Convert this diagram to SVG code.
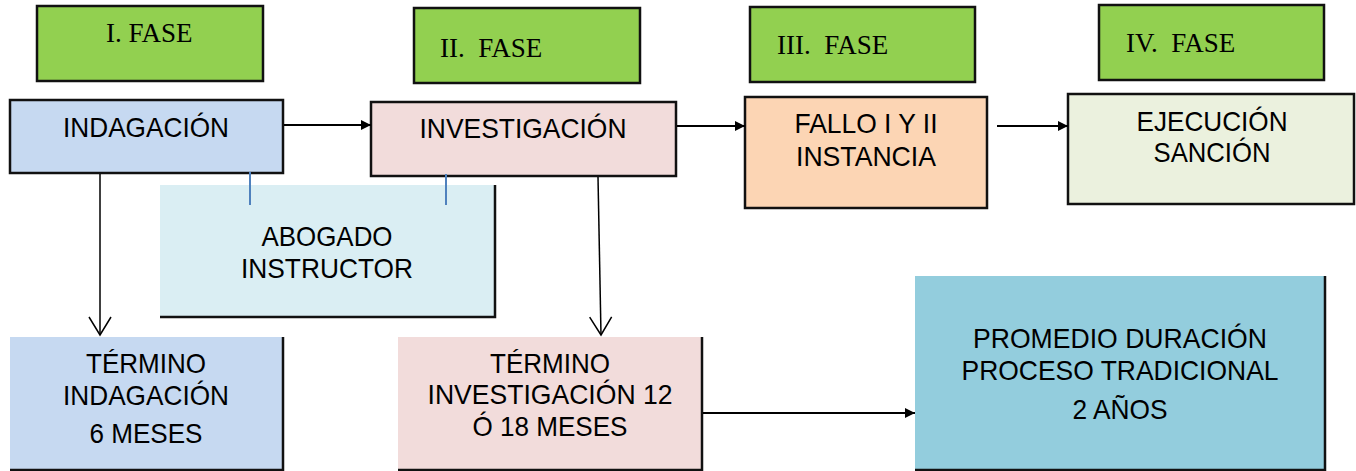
<svg xmlns="http://www.w3.org/2000/svg" width="1356" height="471" viewBox="0 0 1356 471">
<style>
.fase{fill:#92D050;stroke:#111;stroke-width:2.5}
.box{stroke:#111;stroke-width:2.5}
.edge{fill:none;stroke:#111;stroke-width:2.5}
.ser{font-family:"Liberation Serif","Times New Roman",serif;font-size:27px;fill:#000}
.lab{font-family:"Liberation Sans",Arial,sans-serif;font-size:28px;fill:#000;text-anchor:middle}
.con{fill:none;stroke:#000;stroke-width:2}
.thin{fill:none;stroke:#000;stroke-width:1.5}
.tick{stroke:#4F81BD;stroke-width:2}
</style>
<defs>
<marker id="fa" markerUnits="userSpaceOnUse" markerWidth="12" markerHeight="10" refX="10" refY="5" orient="auto">
<path d="M0,0 L10,5 L0,10 Z" fill="#000"/>
</marker>
<marker id="oa" markerUnits="userSpaceOnUse" markerWidth="24" markerHeight="26" refX="20" refY="12" orient="auto" overflow="visible">
<path d="M2,1 L20,12 L2,23" fill="none" stroke="#000" stroke-width="1.5"/>
</marker>
</defs>

<g id="fase1"><rect class="fase" x="37" y="6" width="226" height="75"/><text class="ser" x="106" y="42">I. FASE</text></g>
<g id="fase2"><rect class="fase" x="414" y="8" width="226" height="75"/><text class="ser" x="440" y="57" xml:space="preserve">II.  FASE</text></g>
<g id="fase3"><rect class="fase" x="750" y="7" width="225" height="75"/><text class="ser" x="777" y="54" xml:space="preserve">III.  FASE</text></g>
<g id="fase4"><rect class="fase" x="1099" y="5" width="225" height="75"/><text class="ser" x="1126" y="52" xml:space="preserve">IV.  FASE</text></g>

<g id="indagacion"><rect class="box" x="10" y="100" width="273" height="73" fill="#C6D9F1"/><text class="lab" x="146" y="137" textLength="166" lengthAdjust="spacingAndGlyphs">INDAGACIÓN</text></g>
<g id="investigacion"><rect class="box" x="371" y="102" width="305" height="74" fill="#F2DCDB"/><text class="lab" x="523" y="138" textLength="207" lengthAdjust="spacingAndGlyphs">INVESTIGACIÓN</text></g>
<g id="fallo"><rect class="box" x="745" y="97" width="242" height="111" fill="#FCD5B4"/><text class="lab" x="866" y="133" textLength="143" lengthAdjust="spacingAndGlyphs">FALLO I Y II</text><text class="lab" x="866" y="166" textLength="140" lengthAdjust="spacingAndGlyphs">INSTANCIA</text></g>
<g id="ejecucion"><rect class="box" x="1068" y="94" width="286" height="110" fill="#EBF1DE"/><text class="lab" x="1212" y="131" textLength="151" lengthAdjust="spacingAndGlyphs">EJECUCIÓN</text><text class="lab" x="1212" y="162" textLength="117" lengthAdjust="spacingAndGlyphs">SANCIÓN</text></g>

<g id="abogado"><rect x="160" y="185" width="335" height="132" fill="#DAEEF3"/><path class="edge" d="M495,185 V317 H160"/><text class="lab" x="327" y="246" textLength="131" lengthAdjust="spacingAndGlyphs">ABOGADO</text><text class="lab" x="327" y="278" textLength="172" lengthAdjust="spacingAndGlyphs">INSTRUCTOR</text></g>

<g id="termino-indagacion"><rect x="10" y="337" width="273" height="133" fill="#C6D9F1"/><path class="edge" d="M283,337 V470 H10"/><text class="lab" x="146" y="373" textLength="120" lengthAdjust="spacingAndGlyphs">TÉRMINO</text><text class="lab" x="146" y="405" textLength="166" lengthAdjust="spacingAndGlyphs">INDAGACIÓN</text><text class="lab" x="146" y="443" textLength="113" lengthAdjust="spacingAndGlyphs">6 MESES</text></g>
<g id="termino-investigacion"><rect x="398" y="337" width="304" height="133" fill="#F2DCDB"/><path class="edge" d="M702,337 V470 H398"/><text class="lab" x="550" y="373" textLength="120" lengthAdjust="spacingAndGlyphs">TÉRMINO</text><text class="lab" x="550" y="404" textLength="245" lengthAdjust="spacingAndGlyphs">INVESTIGACIÓN 12</text><text class="lab" x="550" y="436" textLength="155" lengthAdjust="spacingAndGlyphs">Ó 18 MESES</text></g>
<g id="promedio"><rect x="915" y="276" width="410" height="194" fill="#93CDDD"/><path class="edge" d="M1325,276 V470 H915"/><text class="lab" x="1120" y="348" textLength="294" lengthAdjust="spacingAndGlyphs">PROMEDIO DURACIÓN</text><text class="lab" x="1120" y="380" textLength="317" lengthAdjust="spacingAndGlyphs">PROCESO TRADICIONAL</text><text class="lab" x="1120" y="419" textLength="95" lengthAdjust="spacingAndGlyphs">2 AÑOS</text></g>

<g id="connectors">
<line class="con" x1="284" y1="125" x2="371" y2="125" marker-end="url(#fa)"/>
<line class="con" x1="677" y1="126" x2="745" y2="126" marker-end="url(#fa)"/>
<line class="con" x1="997" y1="126" x2="1068" y2="126" marker-end="url(#fa)"/>
<line class="con" x1="703" y1="413" x2="915" y2="413" marker-end="url(#fa)"/>
<line class="thin" x1="100" y1="174" x2="100" y2="335" marker-end="url(#oa)"/>
<line class="thin" x1="598" y1="177" x2="601" y2="335" marker-end="url(#oa)"/>
<line class="tick" x1="250" y1="172" x2="250" y2="205"/>
<line class="tick" x1="446" y1="174" x2="446" y2="205"/>
</g>
</svg>
